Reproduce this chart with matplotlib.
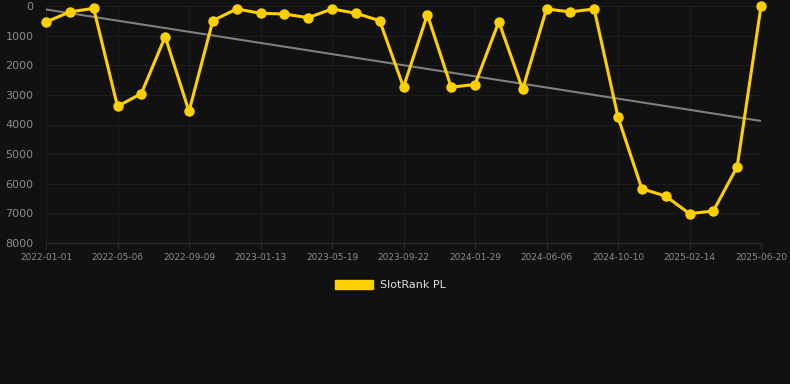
# SlotRank PL rank history with linear trend

import numpy as np
import matplotlib.pyplot as plt
from matplotlib.patches import Patch

# Tick labels (every third sample)
tick_dates = ['2022-01-01', '2022-05-06', '2022-09-09', '2023-01-13', '2023-05-19',
              '2023-09-22', '2024-01-29', '2024-06-06', '2024-10-10', '2025-02-14',
              '2025-06-20']

# Rank values
rank = [540, 200, 80, 3390, 2955, 1035, 3560, 495, 100, 245,
        270, 395, 100, 245, 495, 2740, 290, 2740, 2650, 530,
        2810, 100, 200, 100, 3750, 6170, 6415, 7010, 6920, 5425,
        10]

series_name = 'SlotRank PL'

bg = '#111111'
yellow = '#FFD000'

x = np.arange(len(rank))
coef = np.polyfit(x, rank, 1)
trend = np.polyval(coef, x)

fig = plt.figure(figsize=(7.9, 3.84), dpi=100, facecolor=bg)
ax = fig.add_axes([46/790, 1-243/384, (761-46)/790, (243-6)/384])
ax.set_facecolor(bg)

ax.plot(x, trend, color='#808080', lw=1.5, zorder=2)
ax.plot(x, rank, color=yellow, lw=2.2, marker='o', ms=6.5, zorder=3, clip_on=False)

ax.set_xlim(0, len(rank)-1)
ax.set_ylim(8000, 0)
ax.set_yticks(np.arange(0, 8001, 1000))
ax.set_xticks(x[::3])
ax.set_xticklabels(tick_dates)
ax.grid(True, color='#1d1d1d', lw=0.8, zorder=0)
for s in ax.spines.values():
    s.set_visible(False)
ax.spines['bottom'].set_visible(True)
ax.spines['bottom'].set_color('#2a2a2a')
ax.tick_params(axis='y', colors='#8c8c8c', labelsize=8, length=0, pad=9)
ax.tick_params(axis='x', colors='#2a2a2a', labelcolor='#8c8c8c', labelsize=6.5,
               length=4, width=0.8, pad=3)

fig.legend(handles=[Patch(facecolor=yellow, edgecolor=yellow, label=series_name)],
           loc='center', bbox_to_anchor=(0.494, 0.258), frameon=False,
           fontsize=8, labelcolor='#e0e0e0', handlelength=3.5, handleheight=1.0,
           handletextpad=0.6)

fig.savefig('out.png', dpi=100, facecolor=bg)
